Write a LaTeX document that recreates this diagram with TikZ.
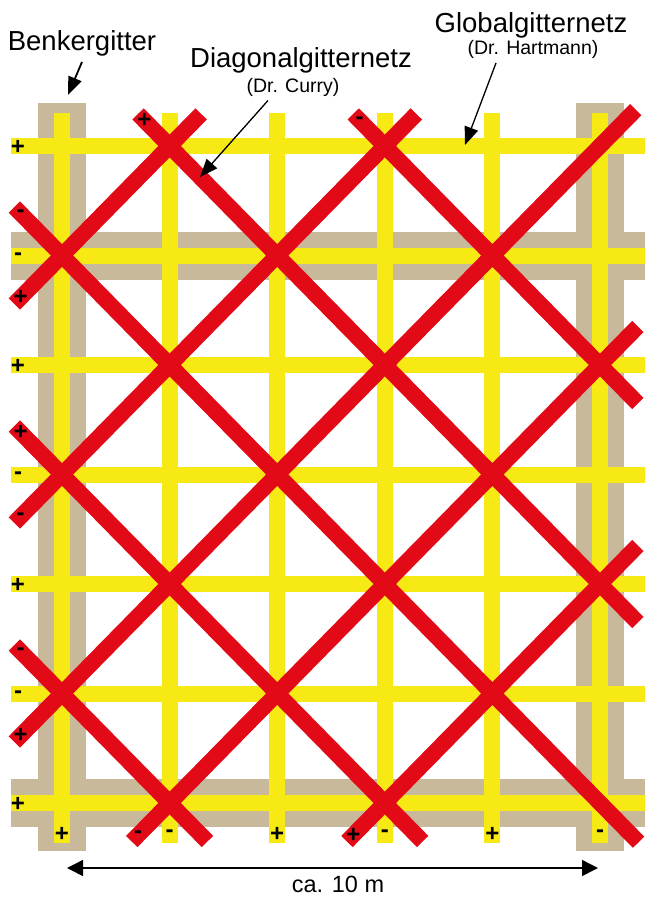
\documentclass[tikz,border=0pt]{standalone}
\usepackage{fontspec}
\setmainfont{Liberation Sans}
\usetikzlibrary{arrows.meta, calc, positioning}
\definecolor{gridyellow}{RGB}{247,233,20}
\definecolor{benkerbeige}{RGB}{201,185,155}
\definecolor{curryred}{RGB}{227,10,23}

\begin{document}
\begin{tikzpicture}[
        x=1pt, y=-1pt,
        benker/.style={fill=benkerbeige},
        hartmann/.style={draw=gridyellow, line width=16pt},
        curry/.style={draw=curryred, line width=16pt},
        sign/.style={font=\bfseries\fontsize{24}{24}\selectfont, inner sep=0pt},
        lbl/.style={font=\fontsize{27.5}{28}\selectfont, inner sep=0pt},
        sublbl/.style={font=\fontsize{19.5}{20}\selectfont, inner sep=0pt},
        pointer/.style={-{Triangle[length=18pt, width=14pt]}, line width=1.3pt},
        dimline/.style={{Triangle[length=16pt, width=16pt]}-{Triangle[length=16pt, width=16pt]}, line width=1.5pt}
    ]
        \useasboundingbox (0,0) rectangle (645,897);

        % Grid points
        \foreach \j in {0,...,5}
            \foreach \i in {0,...,6}
                \coordinate (p\j\i) at ({62+107.6*\j},{146+109.5*\i});

        % Benkergitter
        \fill[benker] ($(p00)+(-24,-43)$) rectangle ($(p06)+(24,48)$);
        \fill[benker] ($(p50)+(-24,-43)$) rectangle ($(p56)+(24,48)$);
        \fill[benker] (11,231.5) rectangle (645,279.5);
        \fill[benker] (11,779) rectangle (645,827);

        % Globalgitternetz
        \foreach \j in {0,...,5}
            \draw[hartmann] ($(p\j0)+(0,-33)$) -- ($(p\j6)+(0,40)$);
        \foreach \i in {0,...,6}
            \draw[hartmann] (11,{146+109.5*\i}) -- (645,{146+109.5*\i});

        % Diagonalgitternetz
        \foreach \a/\b/\ea/\eb/\s [count=\n] in {
                p30/p52/45pt/54pt/-, p10/p54/45pt/54pt/+, p01/p56/68pt/55pt/-,
                p03/p36/68pt/54pt/+, p05/p16/68pt/54pt/-, p01/p10/68pt/45pt/+,
                p03/p30/68pt/45pt/-, p05/p50/68pt/51pt/+, p16/p52/54pt/54pt/-,
                p36/p54/54pt/54pt/+} {
            \draw[curry] ($(\a)!-\ea!(\b)$) -- ($(\b)!-\eb!(\a)$);
            \node[sign] (ds\n) at ($(\a)!-\ea+9pt!(\b)$) {\s};
        }

        % Signs on the yellow lines
        \foreach \i/\s in {0/+, 1/-, 2/+, 3/-, 4/+, 5/-, 6/+}
            \node[sign] (hs\i) at (18,{147+109.5*\i}) {\s};
        \foreach \j/\s in {0/+, 1/-, 2/+, 3/-, 4/+, 5/-}
            \node[sign] (vs\j) at ({62+107.6*\j},834) {\s};

        % Labels
        \node[lbl, anchor=base] (benkerlbl) at (82,50) {Benkergitter};
        \node[lbl, anchor=base] (diaglbl) at (301,67) {Diagonalgitternetz};
        \node[sublbl, below=5pt of diaglbl, xshift=-8pt] (currylbl) {(Dr. Curry)};
        \node[lbl, anchor=base] (globallbl) at (531,32) {Globalgitternetz};
        \node[sublbl, below=2.5pt of globallbl, xshift=2pt] (hartmannlbl) {(Dr. Hartmann)};
        \node[sublbl, font=\fontsize{23.5}{24}\selectfont, anchor=base] (spanlbl) at (338,892) {ca. 10 m};

        % Arrows
        \coordinate (benkertip) at (68,95);
        \coordinate (currytip) at (200,177);
        \coordinate (hartmanntip) at (465,145);
        \coordinate (spanL) at (67,868);
        \coordinate (spanR) at (598,868);
        \draw[pointer, line width=1.8pt] ([yshift=-6pt]benkerlbl.south) -- (benkertip);
        \draw[pointer] ([xshift=-25pt, yshift=-4pt]currylbl.south) -- (currytip);
        \draw[pointer] ([xshift=-37pt, yshift=-4pt]hartmannlbl.south) -- (hartmanntip);
        \draw[dimline] (spanL) -- (spanR);
    \end{tikzpicture}
\end{document}
